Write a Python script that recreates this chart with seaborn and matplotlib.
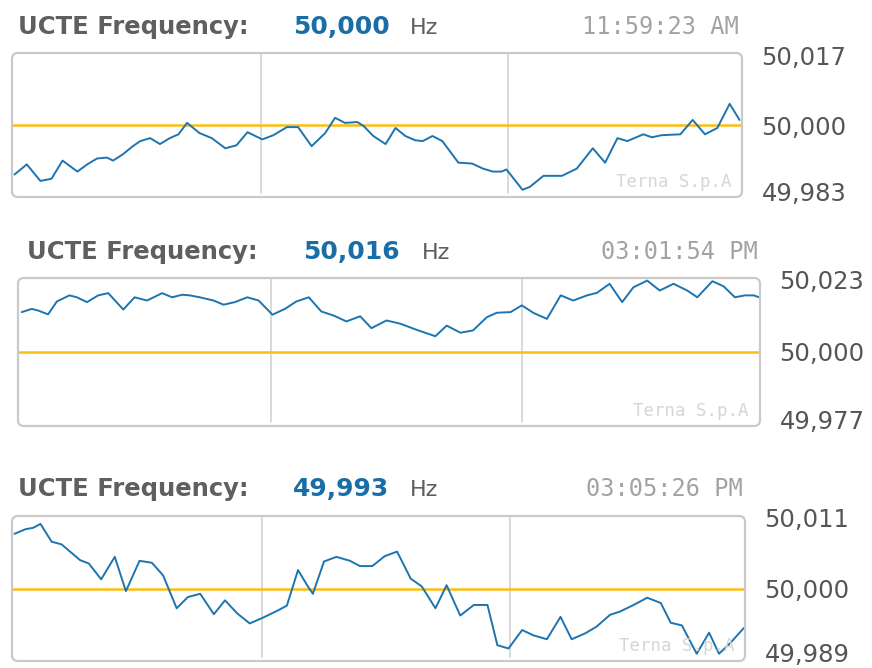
import matplotlib.pyplot as plt
import matplotlib.transforms as mtransforms
import pandas as pd
import seaborn as sns
from matplotlib.patches import FancyBboxPatch

p1_minutes = [0.2, 1.2, 2.3, 3.2, 4.1, 5.3, 6.1, 6.9, 7.7, 8.2, 9.0, 9.8, 10.4, 11.2, 12.0, 12.8,
              13.5, 14.2, 15.2, 16.2, 17.3, 18.2, 19.1, 20.3, 21.2, 22.3, 23.2, 24.3, 25.4, 26.2,
              27.0, 28.0, 28.5, 29.3, 30.3, 31.1, 31.9, 32.7, 33.3, 34.1, 34.9, 36.2, 37.3, 38.2,
              39.0, 39.7, 40.1, 41.4, 42.0, 43.1, 44.6, 45.8, 47.1, 48.1, 49.1, 49.9, 51.2, 51.9,
              52.7, 54.2, 55.2, 56.2, 57.2, 58.2, 59.0]
p1_hz = [49.9883, 49.9907, 49.9868, 49.9873, 49.9916, 49.9890, 49.9907, 49.9921, 49.9923, 49.9916,
         49.9931, 49.9950, 49.9962, 49.9969, 49.9955, 49.9969, 49.9978, 50.0005, 49.9981, 49.9969,
         49.9945, 49.9952, 49.9983, 49.9966, 49.9976, 49.9995, 49.9995, 49.9950, 49.9981, 50.0017,
         50.0005, 50.0007, 49.9998, 49.9974, 49.9955, 49.9993, 49.9974, 49.9964, 49.9962, 49.9974,
         49.9962, 49.9911, 49.9909, 49.9897, 49.9890, 49.9890, 49.9895, 49.9847, 49.9854, 49.9880,
         49.9880, 49.9897, 49.9945, 49.9911, 49.9969, 49.9962, 49.9978, 49.9971, 49.9976, 49.9978,
         50.0012, 49.9978, 49.9993, 50.0050, 50.0012]

p2_minutes = [0.3, 1.1, 1.6, 2.4, 3.1, 4.1, 4.7, 5.5, 6.4, 7.2, 8.4, 9.3, 10.3, 11.5, 12.3, 13.1,
              13.7, 14.5, 15.6, 16.4, 17.3, 18.3, 19.2, 20.3, 21.3, 22.2, 23.2, 24.2, 25.2, 26.2,
              27.3, 28.2, 29.4, 30.5, 31.8, 33.3, 34.2, 35.3, 36.3, 37.4, 38.2, 39.3, 40.2, 41.1,
              42.2, 43.3, 44.3, 45.4, 46.2, 47.2, 48.2, 49.1, 50.2, 51.2, 52.3, 53.4, 54.2, 55.4,
              56.3, 57.2, 58.0, 58.7, 59.2]
p2_hz = [50.0124, 50.0134, 50.0129, 50.0117, 50.0157, 50.0176, 50.0170, 50.0155, 50.0176, 50.0183,
         50.0132, 50.0170, 50.0160, 50.0183, 50.0170, 50.0178, 50.0176, 50.0170, 50.0160, 50.0147,
         50.0155, 50.0170, 50.0160, 50.0116, 50.0134, 50.0157, 50.0170, 50.0126, 50.0113, 50.0095,
         50.0111, 50.0074, 50.0098, 50.0088, 50.0069, 50.0049, 50.0082, 50.0060, 50.0067, 50.0108,
         50.0122, 50.0124, 50.0145, 50.0122, 50.0103, 50.0176, 50.0160, 50.0176, 50.0184, 50.0212,
         50.0155, 50.0201, 50.0222, 50.0191, 50.0212, 50.0191, 50.0170, 50.0220, 50.0204, 50.0170,
         50.0176, 50.0176, 50.0169]

p3_minutes = [0.2, 1.1, 1.7, 2.3, 3.2, 4.0, 5.5, 6.2, 7.2, 8.3, 9.2, 10.3, 11.3, 12.2, 13.3, 14.2,
              15.2, 16.3, 17.2, 18.2, 19.2, 20.3, 21.4, 22.2, 23.1, 23.9, 24.3, 25.2, 26.2, 27.3,
              28.1, 29.1, 30.1, 31.1, 32.2, 33.1, 34.2, 35.1, 36.2, 37.3, 38.4, 39.2, 40.1, 41.2,
              42.1, 43.2, 44.3, 45.2, 46.3, 47.2, 48.3, 49.1, 50.2, 51.3, 52.4, 53.2, 54.1, 55.3,
              56.3, 57.1, 58.0, 59.1]
p3_hz = [50.0083, 50.0090, 50.0092, 50.0098, 50.0071, 50.0067, 50.0043, 50.0038, 50.0014, 50.0048,
         49.9996, 50.0042, 50.0039, 50.0020, 49.9970, 49.9987, 49.9992, 49.9961, 49.9982, 49.9962,
         49.9947, 49.9956, 49.9966, 49.9974, 50.0028, 50.0003, 49.9992, 50.0041, 50.0048, 50.0042,
         50.0034, 50.0034, 50.0049, 50.0056, 50.0015, 50.0003, 49.9970, 50.0005, 49.9959, 49.9975,
         49.9975, 49.9914, 49.9909, 49.9937, 49.9929, 49.9923, 49.9957, 49.9923, 49.9932, 49.9942,
         49.9960, 49.9965, 49.9975, 49.9986, 49.9978, 49.9948, 49.9944, 49.9901, 49.9933, 49.9901,
         49.9917, 49.9940]

current_hz = ["50,000", "50,016", "49,993"]
clock_times = ["11:59:23 AM", "03:01:54 PM", "03:05:26 PM"]
y_limits = [(49.983, 50.017), (49.977, 50.023), (49.989, 50.011)]
nominal_hz = 50.0
grid_minutes = [20.2, 40.2]

W, H = 872, 668
# box (left, top, right, bottom) in px, header (title x, baseline y, value x, Hz x, clock right x)
boxes = [(12, 53, 742, 197), (18, 278, 760, 426), (12, 516, 745, 661)]
headers = [(18, 34, 293, 410, 739), (27, 259, 303, 422, 758), (18, 496, 293, 410, 743)]
# vertical nudge (px) of bottom / middle / top value labels
label_shifts = [(5.5, 0, -2), (6, 0, -2), (8.5, 0, -1)]

BLUE = "#1d74b0"
ORANGE = "#fdbd10"
GRAY = "#5f5f5f"

sns.set_style("white")
plt.rcParams["font.family"] = ["DejaVu Sans"]

fig = plt.figure(figsize=(W / 100, H / 100), dpi=100)


def fx(x):
    return x / W


def fy(y):
    return 1 - y / H


series = [(p1_minutes, p1_hz), (p2_minutes, p2_hz), (p3_minutes, p3_hz)]

for i, (minutes, hz) in enumerate(series):
    l, t, r, b = boxes[i]
    wpx, hpx = r - l, b - t
    ax = fig.add_axes([fx(l), fy(b), wpx / W, hpx / H])
    df = pd.DataFrame({"minute": minutes, "hz": hz})

    for g in grid_minutes:
        ax.axvline(g, ymin=0.03, ymax=1, color="#cfcfcf", lw=1.1, zorder=1)
    ax.axhline(nominal_hz, color=ORANGE, lw=1.8, zorder=2)
    sns.lineplot(data=df, x="minute", y="hz", ax=ax, color=BLUE, lw=1.4, zorder=3)

    lo, hi = y_limits[i]
    ax.set_xlim(0, 59.2)
    ax.set_ylim(lo, hi)
    ax.set(xlabel=None, ylabel=None)
    ax.set_xticks([])
    ticks = [lo, nominal_hz, hi]
    ax.set_yticks(ticks)
    ax.set_yticklabels([f"{v:.3f}".replace(".", ",") for v in ticks])
    ax.yaxis.tick_right()
    ax.tick_params(axis="y", length=0, pad=14, labelsize=17.5, labelcolor="#555555")
    # outer labels sit a little inside the box in the original
    for lab, dy in zip(ax.get_yticklabels(), label_shifts[i]):
        lab.set_transform(lab.get_transform()
                          + mtransforms.ScaledTranslation(0, dy / 100, fig.dpi_scale_trans))
    for s in ax.spines.values():
        s.set_visible(False)

    frame = FancyBboxPatch((0, 0), 1, 1, boxstyle=f"round,pad=0,rounding_size={6 / wpx}",
                           mutation_aspect=wpx / hpx, transform=ax.transAxes,
                           facecolor="none", edgecolor="#c9c9c9", lw=1.6, clip_on=False, zorder=4)
    ax.add_patch(frame)
    ax.text(0.985, 0.04, "Terna S.p.A", transform=ax.transAxes, ha="right", va="bottom",
            family="DejaVu Sans Mono", fontsize=12.5, color="#d6d6d6")

    tx, base, vx, hx, cx = headers[i]
    fig.text(fx(tx), fy(base), "UCTE Frequency:", fontsize=17.5, fontweight="bold", color=GRAY,
             va="baseline")
    fig.text(fx(vx), fy(base), current_hz[i], fontsize=18, fontweight="bold", color="#1a6ea8",
             va="baseline")
    fig.text(fx(hx), fy(base), "Hz", fontsize=16, color=GRAY, va="baseline")
    fig.text(fx(cx), fy(base), clock_times[i], fontsize=17, family="DejaVu Sans Mono",
             color="#a3a3a3", va="baseline", ha="right")

fig.savefig("out.png", dpi=100)
